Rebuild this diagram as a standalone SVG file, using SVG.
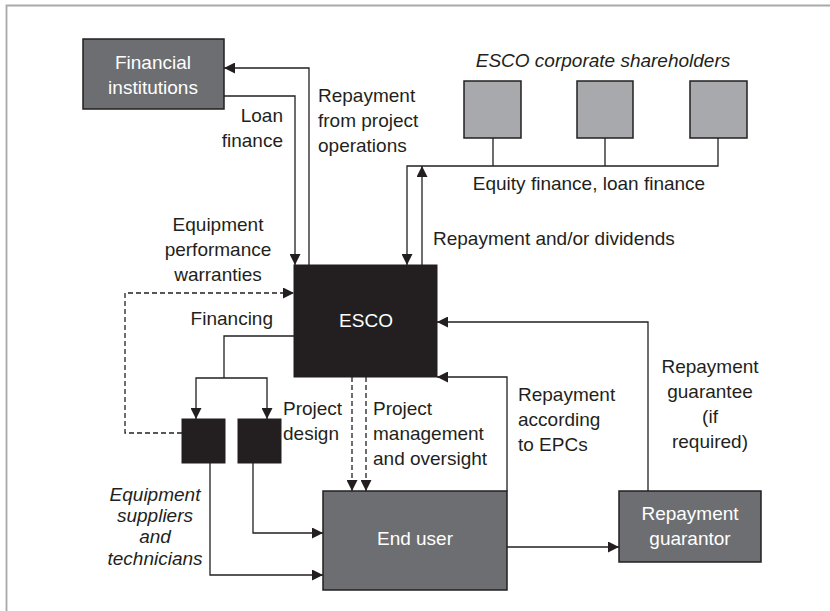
<svg xmlns="http://www.w3.org/2000/svg" width="830" height="611" viewBox="0 0 830 611">
<style>
text{font-family:"Liberation Sans",Arial,sans-serif;font-size:19px;fill:#231f20}
.w{fill:#ffffff}
.it{font-style:italic}
.m{text-anchor:middle}
.e{text-anchor:end}
.ln{fill:none;stroke:#231f20;stroke-width:1.3}
.d{stroke-dasharray:5 3}
.mid{fill:#6d6e71;stroke:#231f20;stroke-width:1.5}
.lt{fill:#a7a9ac;stroke:#231f20;stroke-width:1.5}
.blk{fill:#231f20;stroke:#231f20;stroke-width:1}
</style>
<defs>
<marker id="ah" viewBox="0 0 10 10" refX="10" refY="5" markerWidth="11" markerHeight="11" markerUnits="userSpaceOnUse" orient="auto">
<path d="M0,0 L10,5 L0,10 z" fill="#231f20"/>
</marker>
</defs>
<rect width="830" height="611" fill="#ffffff"/>
<path d="M6.5,611 V5.5 H830" fill="none" stroke="#a7a9ac" stroke-width="1.8"/>

<g id="connectors">
<path class="ln" d="M309,265 V68 H224" marker-end="url(#ah)"/>
<path class="ln" d="M224,96 H295 V265" marker-end="url(#ah)"/>
<path class="ln" d="M493,138 V166 M605,138 V166"/>
<path class="ln" d="M718,138 V166 H407 V265" marker-end="url(#ah)"/>
<path class="ln" d="M422,265 V166" marker-end="url(#ah)"/>
<path class="ln d" d="M182,433 H125 V293 H294" marker-end="url(#ah)"/>
<path class="ln" d="M294,336 H224 V378"/>
<path class="ln" d="M224,378 H196 V419" marker-end="url(#ah)"/>
<path class="ln" d="M224,378 H267 V419" marker-end="url(#ah)"/>
<path class="ln" d="M210,463 V575 H323" marker-end="url(#ah)"/>
<path class="ln" d="M253,463 V533 H323" marker-end="url(#ah)"/>
<path class="ln d" d="M352,377 V491" marker-end="url(#ah)"/>
<path class="ln d" d="M366,377 V491" marker-end="url(#ah)"/>
<path class="ln" d="M507,491 V377 H437" marker-end="url(#ah)"/>
<path class="ln" d="M648,491 V322 H437" marker-end="url(#ah)"/>
<path class="ln" d="M507,547 H619" marker-end="url(#ah)"/>
</g>

<g id="labels">
<text class="e" x="283" y="122">Loan</text>
<text class="e" x="283" y="147">finance</text>
<text x="318" y="102">Repayment</text>
<text x="318" y="127">from project</text>
<text x="318" y="152">operations</text>
<text class="m it" x="603" y="67">ESCO corporate shareholders</text>
<text class="m" x="589" y="190">Equity finance, loan finance</text>
<text x="433" y="245">Repayment and/or dividends</text>
<text class="m" x="218" y="231">Equipment</text>
<text class="m" x="218" y="256">performance</text>
<text class="m" x="218" y="281">warranties</text>
<text class="e" x="273" y="325">Financing</text>
<text x="283" y="415">Project</text>
<text x="283" y="440">design</text>
<text x="373" y="415">Project</text>
<text x="373" y="440">management</text>
<text x="373" y="465">and oversight</text>
<text x="518" y="401">Repayment</text>
<text x="518" y="426">according</text>
<text x="518" y="451">to EPCs</text>
<text class="m" x="710" y="373">Repayment</text>
<text class="m" x="710" y="398">guarantee</text>
<text class="m" x="710" y="423">(if</text>
<text class="m" x="710" y="448">required)</text>
<g style="font-size:17px">
<text class="m it" x="155" y="501">Equipment</text>
<text class="m it" x="155" y="522">suppliers</text>
<text class="m it" x="155" y="543">and</text>
<text class="m it" x="155" y="565">technicians</text>
</g>
</g>

<g id="financial-institutions">
<rect class="mid" x="83" y="39" width="141" height="70"/>
<text class="w m" x="153" y="69">Financial</text>
<text class="w m" x="153" y="94">institutions</text>
</g>
<g id="shareholder-1"><rect class="lt" x="464" y="81" width="57" height="57"/></g>
<g id="shareholder-2"><rect class="lt" x="577" y="81" width="56" height="57"/></g>
<g id="shareholder-3"><rect class="lt" x="690" y="81" width="57" height="57"/></g>
<g id="esco">
<rect class="blk" x="294" y="265" width="143" height="112"/>
<text class="w m" x="366" y="327">ESCO</text>
</g>
<g id="equipment-supplier"><rect class="blk" x="182" y="419" width="43" height="44"/></g>
<g id="project-designer"><rect class="blk" x="238" y="419" width="43" height="44"/></g>
<g id="end-user">
<rect class="mid" x="323" y="491" width="184" height="99"/>
<text class="w m" x="415" y="545">End user</text>
</g>
<g id="repayment-guarantor">
<rect class="mid" x="619" y="491" width="142" height="71"/>
<text class="w m" x="690" y="520">Repayment</text>
<text class="w m" x="690" y="545">guarantor</text>
</g>
</svg>
